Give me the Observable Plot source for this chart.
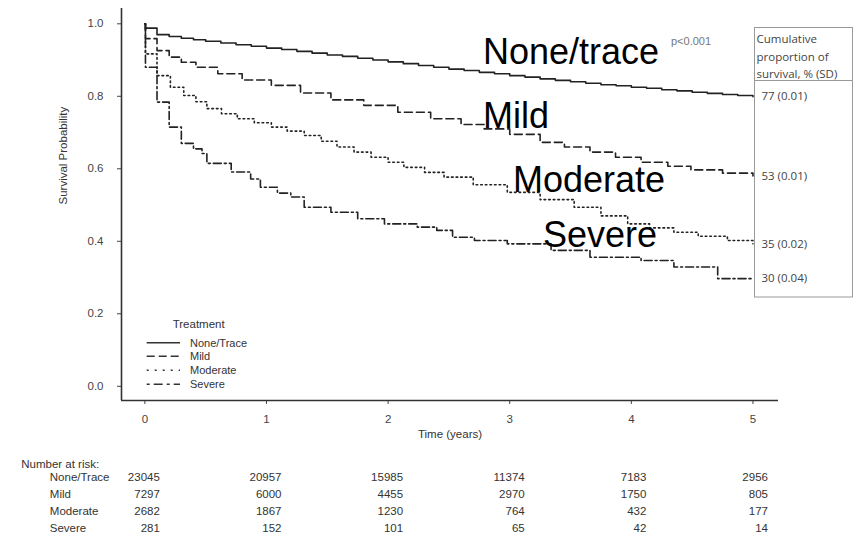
<!DOCTYPE html>
<html><head><meta charset="utf-8">
<script src="https://cdn.jsdelivr.net/npm/d3@7"></script>
<script src="https://cdn.jsdelivr.net/npm/@observablehq/plot@0.6"></script>
<style>
body{margin:0;background:#fff;}
#wrap{position:relative;width:854px;height:535px;overflow:hidden;background:#fff;}
#wrap > svg{display:block;}
#overlay{position:absolute;left:0;top:0;pointer-events:none;}
</style></head><body><div id="wrap"></div>
<script>
// ---------- data ----------
const groups = ["None/Trace", "Mild", "Moderate", "Severe"];

const noneTime = [0, 0.005, 0.10, 0.2, 0.3, 0.4, 0.5, 0.625, 0.75, 0.875, 1.0, 1.125, 1.25, 1.375, 1.5, 1.625, 1.75, 1.875, 2.0, 2.125, 2.25, 2.375, 2.5, 2.625, 2.75, 2.875, 3.0, 3.125, 3.25, 3.375, 3.5, 3.625, 3.75, 3.875, 4.0, 4.125, 4.25, 4.375, 4.5, 4.625, 4.75, 4.875, 5.0];
const noneSurv = [1.0, 0.988, 0.970, 0.965, 0.960, 0.956, 0.952, 0.947, 0.942, 0.938, 0.933, 0.929, 0.924, 0.919, 0.914, 0.910, 0.905, 0.900, 0.895, 0.890, 0.885, 0.880, 0.875, 0.871, 0.866, 0.862, 0.857, 0.853, 0.848, 0.844, 0.840, 0.836, 0.832, 0.829, 0.825, 0.822, 0.818, 0.815, 0.811, 0.808, 0.805, 0.802, 0.799];

const mildTime = [0, 0.005, 0.10, 0.20, 0.30, 0.42, 0.6, 0.8, 1.04, 1.28, 1.53, 1.8, 2.08, 2.35, 2.6, 2.79, 3.0, 3.25, 3.45, 3.66, 3.87, 4.08, 4.3, 4.49, 4.75, 5.0];
const mildSurv = [1.0, 0.959, 0.926, 0.908, 0.894, 0.880, 0.862, 0.845, 0.830, 0.809, 0.790, 0.775, 0.756, 0.738, 0.722, 0.710, 0.695, 0.673, 0.660, 0.646, 0.632, 0.618, 0.607, 0.597, 0.588, 0.580];

const moderateTime = [0, 0.005, 0.10, 0.21, 0.32, 0.42, 0.51, 0.63, 0.76, 0.9, 1.04, 1.17, 1.31, 1.45, 1.58, 1.72, 1.86, 2.0, 2.13, 2.3, 2.46, 2.7, 2.98, 3.25, 3.53, 3.75, 3.97, 4.15, 4.35, 4.55, 4.79, 5.0];
const moderateSurv = [1.0, 0.917, 0.857, 0.825, 0.802, 0.785, 0.766, 0.752, 0.738, 0.727, 0.715, 0.704, 0.692, 0.676, 0.660, 0.646, 0.632, 0.618, 0.604, 0.590, 0.577, 0.556, 0.535, 0.515, 0.494, 0.470, 0.448, 0.437, 0.425, 0.414, 0.402, 0.393];

const severeTime = [0, 0.005, 0.10, 0.20, 0.30, 0.40, 0.47, 0.51, 0.71, 0.87, 0.95, 1.09, 1.20, 1.31, 1.53, 1.75, 1.97, 2.24, 2.40, 2.53, 2.71, 2.98, 3.34, 3.66, 4.08, 4.35, 4.71, 5.0];
const severeSurv = [1.0, 0.880, 0.784, 0.715, 0.670, 0.655, 0.642, 0.615, 0.591, 0.572, 0.549, 0.533, 0.522, 0.494, 0.480, 0.462, 0.448, 0.439, 0.430, 0.411, 0.402, 0.393, 0.375, 0.356, 0.347, 0.329, 0.297, 0.297];

const endLabels = ["77 (0.01)", "53 (0.01)", "35 (0.02)", "30 (0.04)"];

const riskTimes = [0, 1, 2, 3, 4, 5];
const riskNone = [23045, 20957, 15985, 11374, 7183, 2956];
const riskMild = [7297, 6000, 4455, 2970, 1750, 805];
const riskModerate = [2682, 1867, 1230, 764, 432, 177];
const riskSevere = [281, 152, 101, 65, 42, 14];

const xTicks = [0, 1, 2, 3, 4, 5];
const yTicks = [0, 0.2, 0.4, 0.6, 0.8, 1.0];

const annotLabels = ["None/trace", "Mild", "Moderate", "Severe"];
const pValueText = "p<0.001";
const boxHeader = ["Cumulative", "proportion of", "survival, % (SD)"];
const legendTitle = "Treatment";

// ---------- layout / style ----------
const W = 854, H1 = 445, H2 = 90;
const mL = 121, mR = 76;
const xDomain = [-0.192, 5.21];
const yDomain = [-0.0392, 1.0422];
const FONT = "'Liberation Sans', Arial, sans-serif";
const FONT2 = "'Open Sans', sans-serif";
const curveDash = {"None/Trace": null, "Mild": "8,4", "Moderate": "1.6,3", "Severe": "8,3,2,3"};
const legendDash = {"None/Trace": null, "Mild": "8,4", "Moderate": "2,6", "Severe": "3,4,9,4"};

const series = [
  {name: groups[0], time: noneTime, surv: noneSurv},
  {name: groups[1], time: mildTime, surv: mildSurv},
  {name: groups[2], time: moderateTime, surv: moderateSurv},
  {name: groups[3], time: severeTime, surv: severeSurv}
];
const toRows = (t, s) => t.map((x, i) => ({t: x, s: s[i]}));

const lineMarks = series.map(sr => Plot.line(toRows(sr.time, sr.surv), {
  x: "t", y: "s", curve: "step-after", stroke: "#222", strokeWidth: 1.6,
  ...(curveDash[sr.name] ? {strokeDasharray: curveDash[sr.name]} : {})
}));

const ends = series.map((sr, i) => ({t: sr.time[sr.time.length - 1], s: sr.surv[sr.surv.length - 1], label: endLabels[i]}));

const chart = Plot.plot({
  width: W, height: H1,
  marginLeft: mL, marginRight: mR, marginTop: 8, marginBottom: 45,
  style: {fontFamily: FONT, fontSize: "11.5px", background: "#fff", overflow: "visible"},
  x: {domain: xDomain},
  y: {domain: yDomain},
  marks: [
    Plot.axisY({ticks: yTicks, tickFormat: d3.format(".1f"), tickSize: 4, tickPadding: 14, label: null, color: "#444"}),
    Plot.axisX({ticks: xTicks, tickFormat: d3.format("d"), tickSize: 4, tickPadding: 10, label: null, color: "#444"}),
    Plot.ruleX([xDomain[0]], {stroke: "#333", strokeWidth: 1.6}),
    Plot.ruleY([yDomain[0]], {stroke: "#333", strokeWidth: 1.6}),
    ...lineMarks,
    Plot.text(ends, {x: "t", y: "s", text: "label", dx: 8.5, textAnchor: "start", fontFamily: FONT2, fontSize: 11.5, fill: "#444"}),
    Plot.text(["Time (years)"], {frameAnchor: "bottom", dy: 37, text: d => d, fill: "#333"}),
    Plot.text(["Survival Probability"], {frameAnchor: "left", dx: -58, rotate: -90, text: d => d, fill: "#333"})
  ]
});

const riskArrays = [riskNone, riskMild, riskModerate, riskSevere];
const riskRows = [];
groups.forEach((g, gi) => riskTimes.forEach((t, i) => riskRows.push({g, t, n: riskArrays[gi][i]})));

const risk = Plot.plot({
  width: W, height: H2,
  marginLeft: mL, marginRight: mR, marginTop: 31.7, marginBottom: 6.7,
  style: {fontFamily: FONT, fontSize: "11.5px", background: "#fff", overflow: "visible"},
  x: {domain: xDomain, axis: null},
  y: {type: "point", domain: groups, padding: 0, axis: null},
  marks: [
    Plot.text(riskRows, {x: "t", y: "g", text: d => String(d.n), textAnchor: "end", dx: 15, fill: "#333"}),
    Plot.text(groups, {y: d => d, text: d => d, frameAnchor: "left", textAnchor: "start", dx: -71.7, fill: "#333"}),
    Plot.text(["Number at risk:"], {frameAnchor: "top-left", dx: -100.3, dy: -17.7, textAnchor: "start", text: d => d, fill: "#333"})
  ]
});

const wrap = document.getElementById("wrap");
wrap.appendChild(chart);
wrap.appendChild(risk);

// ---------- overlay: box, legend, annotations ----------
const ov = d3.select(wrap).append("svg").attr("id", "overlay").attr("width", W).attr("height", H1 + H2);

// summary box
ov.append("rect").attr("x", 754.5).attr("y", 27.5).attr("width", 98).attr("height", 269.5)
  .attr("fill", "none").attr("stroke", "#999").attr("stroke-width", 1);
ov.append("line").attr("x1", 754.5).attr("x2", 852.5).attr("y1", 80.5).attr("y2", 80.5)
  .attr("stroke", "#999").attr("stroke-width", 1);
ov.selectAll("text.hdr").data(boxHeader).join("text").attr("class", "hdr")
  .attr("x", 756.5).attr("y", (d, i) => 43 + i * 17.6)
  .attr("font-family", FONT2).attr("font-size", 11.5).attr("fill", "#444").text(d => d);

// legend
ov.append("text").attr("x", 172.7).attr("y", 328).attr("font-family", FONT).attr("font-size", 11.5)
  .attr("fill", "#333").text(legendTitle);
const legY = [342.7, 356.3, 370.3, 384.3];
groups.forEach((g, i) => {
  const ln = ov.append("line").attr("x1", 146.7).attr("x2", 180).attr("y1", legY[i]).attr("y2", legY[i])
    .attr("stroke", "#333").attr("stroke-width", 1.5);
  if (legendDash[g]) ln.attr("stroke-dasharray", legendDash[g]);
  ov.append("text").attr("x", 190).attr("y", legY[i] + 4).attr("font-family", FONT).attr("font-size", 11)
    .attr("fill", "#333").text(g);
});

// large annotations
const annX = [483, 483, 513, 543];
const annY = [64, 127.5, 191.5, 246.5];
annotLabels.forEach((s, i) => {
  ov.append("text").attr("x", annX[i]).attr("y", annY[i]).attr("font-family", FONT)
    .attr("font-size", 36).attr("fill", "#000").text(s);
});
ov.append("text").attr("x", 671).attr("y", 45).attr("font-family", FONT).attr("font-size", 11)
  .attr("fill", "#777").text(pValueText);
</script>
</body></html>
